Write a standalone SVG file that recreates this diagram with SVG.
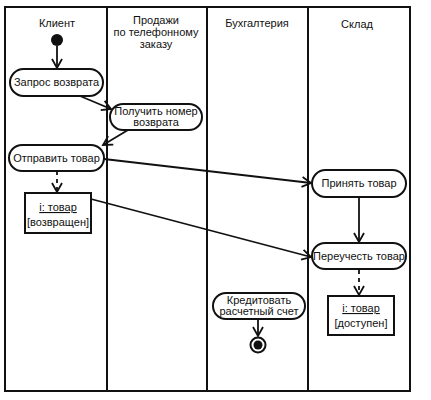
<svg xmlns="http://www.w3.org/2000/svg" width="431" height="400" viewBox="0 0 431 400">
<defs>
<style>
.lane{fill:none;stroke:#111;stroke-width:2}
.node{fill:#fff;stroke:#111;stroke-width:2}
.t{font-family:"Liberation Sans",Arial,sans-serif;font-size:11px;fill:#111;text-anchor:middle}
.c{fill:none;stroke:#111;stroke-width:1.8}
.d{stroke-dasharray:4 4}
</style>
<marker id="a" markerUnits="userSpaceOnUse" markerWidth="14" markerHeight="14" refX="10" refY="6" orient="auto">
<path d="M1,1 L10,6 L1,11" fill="none" stroke="#111" stroke-width="1.8"/>
</marker>
</defs>
<rect width="431" height="400" fill="#fff"/>
<g id="lanes">
<rect class="lane" x="5" y="7" width="405" height="384"/>
<line class="lane" x1="107" y1="7" x2="107" y2="391"/>
<line class="lane" x1="207" y1="7" x2="207" y2="391"/>
<line class="lane" x1="308" y1="7" x2="308" y2="391"/>
<text class="t" x="57" y="27">Клиент</text>
<text class="t" x="156" y="24">Продажи</text>
<text class="t" x="156" y="36">по телефонному</text>
<text class="t" x="156" y="48">заказу</text>
<text class="t" x="257" y="27">Бухгалтерия</text>
<text class="t" x="357" y="28">Склад</text>
</g>
<g id="connectors">
<line class="c" x1="57" y1="46" x2="57" y2="68" marker-end="url(#a)"/>
<line class="c" x1="80" y1="96" x2="111" y2="109" marker-end="url(#a)"/>
<line class="c" x1="128" y1="130" x2="103" y2="145" marker-end="url(#a)"/>
<line class="c d" x1="57" y1="171" x2="57" y2="192" marker-end="url(#a)"/>
<line class="c" x1="104" y1="159" x2="311" y2="183" marker-end="url(#a)"/>
<line class="c" x1="91" y1="199" x2="311" y2="257" marker-end="url(#a)"/>
<line class="c" x1="359" y1="197" x2="359" y2="242" marker-end="url(#a)"/>
<line class="c d" x1="359" y1="270" x2="359" y2="295" marker-end="url(#a)"/>
<line class="c" x1="258" y1="318" x2="258" y2="336" marker-end="url(#a)"/>
</g>
<g id="start"><circle cx="57" cy="40" r="6" fill="#111"/></g>
<g id="n1"><rect class="node" x="10" y="69" width="93" height="27" rx="13.5"/><text class="t" x="56.5" y="86">Запрос возврата</text></g>
<g id="n2"><rect class="node" x="110" y="104" width="92" height="26" rx="13"/><text class="t" x="156" y="115">Получить номер</text><text class="t" x="156" y="126">возврата</text></g>
<g id="n3"><rect class="node" x="9" y="145" width="95" height="26" rx="13"/><text class="t" x="56.5" y="162">Отправить товар</text></g>
<g id="o1"><rect class="node" x="25" y="193" width="66" height="40"/><text class="t" x="58" y="211" text-decoration="underline">i: товар</text><text class="t" x="58" y="226">[возвращен]</text></g>
<g id="n4"><rect class="node" x="312" y="170" width="94" height="27" rx="13.5"/><text class="t" x="359" y="187">Принять товар</text></g>
<g id="n5"><rect class="node" x="312" y="243" width="94" height="26" rx="13"/><text class="t" x="359" y="260">Переучесть товар</text></g>
<g id="o2"><rect class="node" x="328" y="296" width="66" height="39"/><text class="t" x="361" y="312" text-decoration="underline">i: товар</text><text class="t" x="361" y="327">[доступен]</text></g>
<g id="n6"><rect class="node" x="213" y="293" width="92" height="26" rx="13"/><text class="t" x="259" y="304">Кредитовать</text><text class="t" x="259" y="315">расчетный счет</text></g>
<g id="end"><circle cx="258" cy="345" r="7.5" fill="#fff" stroke="#111" stroke-width="2"/><circle cx="258" cy="345" r="4.5" fill="#111"/></g>
</svg>
